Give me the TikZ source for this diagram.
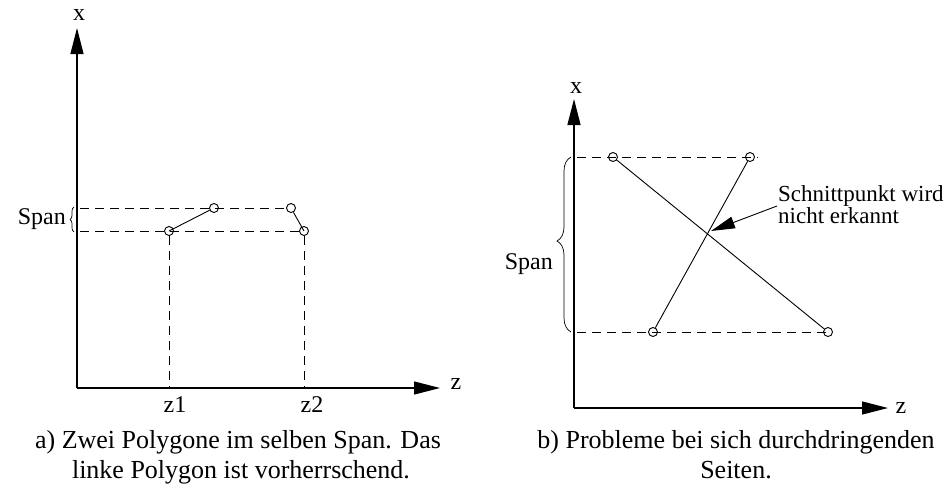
\documentclass[tikz,border=0pt]{standalone}
\usepackage{fontspec}
\setmainfont{Liberation Serif}
\usetikzlibrary{arrows.meta,decorations.pathreplacing}
\begin{document}
\begin{tikzpicture}[x=1pt,y=-1pt,
  axis/.style={line width=1.3pt,-{Triangle[length=26pt,width=13pt]}},
  dsh/.style={line width=0.9pt,dash pattern=on 9pt off 6pt},
  edge/.style={line width=0.9pt},
  pt/.style={circle,draw,line width=0.9pt,inner sep=0pt,minimum size=9pt},
  lbl/.style={font=\fontsize{24}{29}\selectfont,inner sep=0pt},
  captext/.style={font=\fontsize{26}{29}\selectfont,inner sep=0pt,anchor=base},
  note/.style={font=\fontsize{23}{18}\selectfont,inner sep=0pt,align=left,anchor=west}]
\useasboundingbox (0,0) rectangle (951,493);
% ---------- left panel ----------
\coordinate (O1) at (77,388);
\coordinate (X1) at (77,28);
\coordinate (Z1) at (440,388);
\draw[axis] (O1) -- (X1);
\draw[axis] (O1) -- (Z1);
\node[lbl] (x1l) at (79,15) {x};
\node[lbl] (z1l) at (456,384) {z};
\node[pt] (a1) at (169,231) {};
\node[pt] (a2) at (214,208) {};
\node[pt] (b1) at (291,208) {};
\node[pt] (b2) at (304,231) {};
\draw[edge] (a1.center) -- (a2);
\draw[edge] (b1) -- (b2.center);
\coordinate (lt) at (80,208);
\coordinate (lb) at (80,231);
\coordinate (lte) at (286,208);
\draw[dsh] (lt) -- (lte);
\draw[dsh] (lb) -- (b2.center);
\coordinate (a1b) at (169,388);
\coordinate (b2b) at (304,388);
\draw[dsh] (a1) -- (a1b);
\draw[dsh] (b2) -- (b2b);
\coordinate (br1a) at (74,232);
\coordinate (br1b) at (74,207);
\draw[decorate,decoration={brace,amplitude=4pt},line width=0.7pt] (br1a) -- (br1b);
\node[lbl,anchor=east] (span1) at (66,219) {Span};
\node[captext,font=\fontsize{24}{29}\selectfont] (zl1) at (175,412) {z1};
\node[captext,font=\fontsize{24}{29}\selectfont] (zl2) at (312,412) {z2};
\node[captext] (capa1) at (238,448) {a) Zwei Polygone im selben Span. Das};
\node[captext] (capa2) at (241,478) {linke Polygon ist vorherrschend.};
% ---------- right panel ----------
\coordinate (O2) at (574,408);
\coordinate (X2) at (574,99);
\coordinate (Z2) at (888,408);
\draw[axis] (O2) -- (X2);
\draw[axis] (O2) -- (Z2);
\node[lbl] (x2l) at (576,88) {x};
\node[lbl] (z2l) at (901,408) {z};
\node[pt] (c1) at (613,157) {};
\node[pt] (c2) at (750,157) {};
\node[pt] (c3) at (653,332) {};
\node[pt] (c4) at (828,332) {};
\draw[edge] (c1) -- (c4);
\draw[edge] (c2) -- (c3);
\coordinate (rt) at (577,157);
\coordinate (rte) at (758,157);
\coordinate (rb) at (577,332);
\draw[dsh] (rt) -- (rte);
\draw[dsh] (rb) -- (c4.center);
\coordinate (br2a) at (571,332);
\coordinate (br2b) at (571,157);
\draw[decorate,decoration={brace,amplitude=14pt,aspect=0.52},line width=0.7pt] (br2a) -- (br2b);
\node[lbl,anchor=east] (span2) at (553,264) {Span};
\node[note] (nt) at (778,205) {Schnittpunkt wird\\nicht erkannt};
\coordinate (isec) at (711,231);
\coordinate (ntail) at (777,206);
\draw[edge,-{Triangle[length=24pt,width=12pt]}] (ntail) -- (isec);
\node[captext] (capb1) at (736,448) {b) Probleme bei sich durchdringenden};
\node[captext] (capb2) at (736,478) {Seiten.};
\end{tikzpicture}
\end{document}
